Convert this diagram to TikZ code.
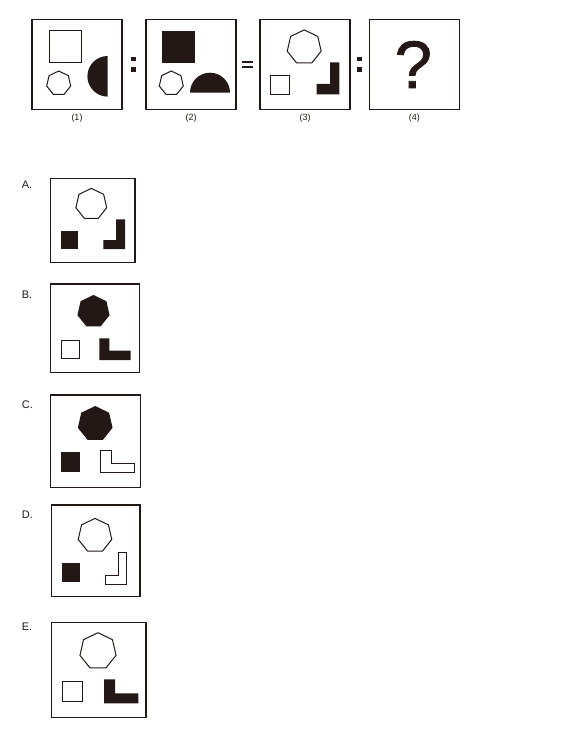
\documentclass[tikz,border=0pt]{standalone}
\usepackage{fontspec}
\setmainfont{Liberation Sans}
\newfontfamily\qfont[FakeBold=1.2]{Liberation Sans}
\definecolor{ink}{RGB}{35,24,21}
\begin{document}
\begin{tikzpicture}[x=1pt,y=-1pt,
  frame/.style={draw=ink,line width=1.3pt},
  outl/.style={draw=ink,line width=1pt,line join=miter},
  solid fill/.style={fill=ink},
  lbl/.style={font=\fontsize{9}{10}\selectfont,text=ink,inner sep=0pt},
  optlbl/.style={font=\fontsize{11}{12}\selectfont,text=ink,inner sep=0pt,anchor=base west}]
\useasboundingbox (0,0) rectangle (574,730);
\newcommand\heptag[4]{%
  \path[#4] (#1,#2) +(-90:#3) \foreach \k in {1,...,6} {-- +(-90+\k*360/7:#3)} -- cycle;}
% ---------- top row ----------
\draw[frame] (32,19.3) rectangle (122,109.3);
\draw[frame] (146,19.3) rectangle (236,109.3);
\draw[frame] (260,19.3) rectangle (350,109.3);
\draw[frame] (369.3,19.3) rectangle (459.3,109.3);
% box 1
\draw[outl] (49,30.7) rectangle (81,62.7);
\heptag{58.7}{83.3}{12.3}{outl}
\fill[ink] (107.7,56) arc[start angle=-90,end angle=-270,radius=20.3] -- cycle;
% colon
\fill[ink] (131,56.7) rectangle (136,60.9);
\fill[ink] (131,67.3) rectangle (136,71.6);
% box 2
\fill[ink] (162.3,30.7) rectangle (195,63.3);
\heptag{171.3}{83.3}{12.3}{outl}
\fill[ink] (190,92.7) arc[start angle=180,end angle=360,radius=20] -- cycle;
% equals
\fill[ink] (241.7,60.7) rectangle (253.3,63.4);
\fill[ink] (241.7,65.8) rectangle (253.3,68.4);
% box 3
\heptag{304.2}{47.3}{17.4}{outl}
\draw[outl] (270.7,76) rectangle (289.3,94.3);
\fill[ink] (330,62.3) -- (339.3,62.3) -- (339.3,94.3) -- (316.7,94.3) -- (316.7,84) -- (330,84) -- cycle;
% colon
\fill[ink] (356.7,56.7) rectangle (361.7,60.9);
\fill[ink] (356.7,67.3) rectangle (361.7,71.6);
% box 4
\node[text=ink,inner sep=0pt,font=\qfont\fontsize{67}{70}\selectfont] (qm) at (413.3,64.5) {?};
% labels
\node[lbl] (l1) at (77,118) {(1)};
\node[lbl] (l2) at (191,118) {(2)};
\node[lbl] (l3) at (305,118) {(3)};
\node[lbl] (l4) at (414.3,118) {(4)};
% ---------- options ----------
% A
\node[optlbl] (oa) at (21.7,188.3) {A.};
\draw[frame] (50.7,178.3) rectangle (135,262.7);
\heptag{91.3}{204.2}{15.8}{outl}
\fill[ink] (60.7,231) rectangle (78.3,249);
\fill[ink] (116,219.3) -- (125,219.3) -- (125,249) -- (103.3,249) -- (103.3,240) -- (116,240) -- cycle;
% B
\node[optlbl] (ob) at (21.7,298.3) {B.};
\draw[frame] (50.7,284) rectangle (139.3,372.7);
\heptag{93.5}{311.5}{16.5}{solid fill}
\draw[outl] (61,340) rectangle (79,358.3);
\fill[ink] (99.3,338.3) -- (109.3,338.3) -- (109.3,350.7) -- (130.7,350.7) -- (130.7,360) -- (99.3,360) -- cycle;
% C
\node[optlbl] (oc) at (21.7,408.3) {C.};
\draw[frame] (50.7,395) rectangle (140.7,487.3);
\heptag{95.2}{423.8}{17.8}{solid fill}
\fill[ink] (61,452) rectangle (80,471.7);
\draw[outl] (100,450) -- (111,450) -- (111,463.3) -- (134,463.3) -- (134,472.7) -- (100,472.7) -- cycle;
% D
\node[optlbl] (od) at (21.7,518.3) {D.};
\draw[frame] (51.7,505) rectangle (140,596.7);
\heptag{95}{535.6}{17.2}{outl}
\fill[ink] (61.7,563.3) rectangle (80,581.7);
\draw[outl] (118.3,552.3) -- (126.7,552.3) -- (126.7,584) -- (105,584) -- (105,575) -- (118.3,575) -- cycle;
% E
\node[optlbl] (oe) at (21.7,630) {E.};
\draw[frame] (51.7,622.3) rectangle (146,717.3);
\heptag{98}{651.2}{18.5}{outl}
\draw[outl] (62.7,681) rectangle (82.3,701);
\fill[ink] (104,679.3) -- (115,679.3) -- (115,693.3) -- (138.3,693.3) -- (138.3,703.3) -- (104,703.3) -- cycle;
\end{tikzpicture}
\end{document}
